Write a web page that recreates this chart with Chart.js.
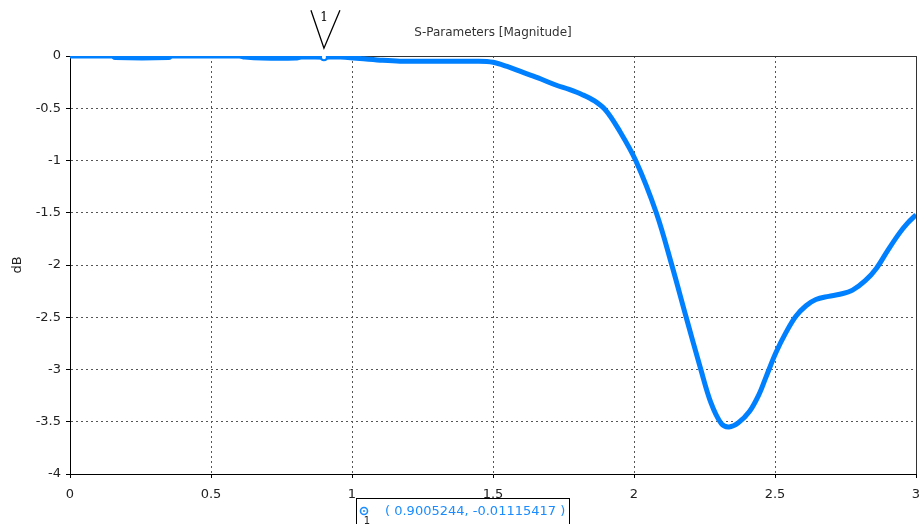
<!DOCTYPE html>
<html>
<head>
    <title>S-Parameters [Magnitude]</title>
    <meta charset="UTF-8">
    <style>
        body {
            margin: 0;
            background: #fff;
        }
        canvas {
            display: block;
        }
    </style>
    <script src="https://cdn.jsdelivr.net/npm/chart.js"></script>
</head>
<body>
    <canvas id="sparamChart" width="922" height="524"></canvas>

    <script>
        // frequency (GHz) and magnitude (dB)
        const freqGHz = [0, 0.15, 0.16, 0.35, 0.36, 0.6, 0.62, 0.68, 0.8, 0.82, 0.9005, 0.96,
            1.1, 1.17, 1.45, 1.5, 1.55, 1.6, 1.66, 1.725, 1.77, 1.817, 1.86, 1.9, 1.945,
            2.006, 2.079, 2.134, 2.185, 2.237, 2.273, 2.31, 2.337, 2.37, 2.41, 2.443, 2.467,
            2.503, 2.54, 2.574, 2.61, 2.645, 2.69, 2.73, 2.775, 2.82, 2.86, 2.9, 2.94, 2.97, 3.0];
        const magnitudeDb = [0, 0, -0.015, -0.015, 0, 0, -0.01, -0.02, -0.02, -0.01, -0.011, -0.01,
            -0.04, -0.05, -0.05, -0.06, -0.1, -0.15, -0.21, -0.28, -0.32, -0.37, -0.43, -0.52, -0.7,
            -1.0, -1.5, -2.0, -2.5, -3.0, -3.32, -3.52, -3.55, -3.51, -3.4, -3.24, -3.08,
            -2.84, -2.64, -2.49, -2.39, -2.33, -2.3, -2.28, -2.24, -2.15, -2.03, -1.86, -1.7, -1.6, -1.52];

        // marker 1
        const markerIds = ['1'];
        const markerFreq = [0.9005244];
        const markerValue = [-0.01115417];

        const xTicks = [0, 0.5, 1, 1.5, 2, 2.5, 3];
        const yTicks = [0, -0.5, -1, -1.5, -2, -2.5, -3, -3.5, -4];

        const blue = '#0080ff';
        const fontFamily = "'DejaVu Sans', Tahoma, sans-serif";

        const curve = freqGHz.map((f, i) => ({ x: f, y: magnitudeDb[i] }));
        const markers = markerFreq.map((f, i) => ({ x: f, y: markerValue[i] }));

        // frame on top/right + marker flag + readout box
        const decorations = {
            id: 'decorations',
            beforeDatasetsDraw(chart) {
                const { ctx, chartArea: a } = chart;
                ctx.save();
                ctx.strokeStyle = '#333';
                ctx.lineWidth = 1;
                ctx.beginPath();
                ctx.moveTo(a.left, a.top + 0.5);
                ctx.lineTo(a.right + 0.5, a.top + 0.5);
                ctx.lineTo(a.right + 0.5, a.bottom);
                ctx.stroke();
                ctx.restore();
            },
            afterDraw(chart) {
                const { ctx } = chart;
                const xs = chart.scales.x, ys = chart.scales.y;
                ctx.save();
                markerFreq.forEach((f, i) => {
                    const px = xs.getPixelForValue(f);
                    const py = ys.getPixelForValue(markerValue[i]);
                    ctx.strokeStyle = '#000';
                    ctx.lineWidth = 1.3;
                    ctx.beginPath();
                    ctx.moveTo(px - 13, py - 47);
                    ctx.lineTo(px, py - 9);
                    ctx.lineTo(px + 16, py - 47);
                    ctx.stroke();
                    ctx.fillStyle = '#000';
                    ctx.font = "12px 'DejaVu Serif', serif";
                    ctx.textAlign = 'center';
                    ctx.textBaseline = 'middle';
                    ctx.fillText(markerIds[i], px, py - 39);

                    // readout box
                    const bx = 356.5, by = 498.5;
                    ctx.strokeStyle = '#000';
                    ctx.lineWidth = 1;
                    ctx.fillStyle = '#fff';
                    ctx.fillRect(bx, by, 213, 40);
                    ctx.strokeRect(bx, by, 213, 40);
                    ctx.strokeStyle = '#1a8cff';
                    ctx.lineWidth = 1.6;
                    ctx.beginPath();
                    ctx.arc(364, 511, 3.5, 0, Math.PI * 2);
                    ctx.stroke();
                    ctx.fillStyle = '#1a8cff';
                    ctx.beginPath();
                    ctx.arc(364, 511, 1, 0, Math.PI * 2);
                    ctx.fill();
                    ctx.fillStyle = '#222';
                    ctx.font = "10px " + fontFamily;
                    ctx.fillText(markerIds[i], 367, 521);
                    ctx.fillStyle = '#1a8cff';
                    ctx.font = "13px " + fontFamily;
                    ctx.textAlign = 'left';
                    ctx.fillText('( ' + f + ', ' + markerValue[i] + ' )', 385, 512);
                });
                ctx.restore();
            }
        };

        const ctx = document.getElementById('sparamChart').getContext('2d');
        const chart = new Chart(ctx, {
            type: 'scatter',
            data: {
                datasets: [{
                    data: curve,
                    order: 1,
                    showLine: true,
                    borderColor: blue,
                    borderWidth: 5,
                    pointRadius: 0,
                    tension: 0.35,
                }, {
                    data: markers,
                    order: 0,
                    showLine: false,
                    pointRadius: 3,
                    pointBorderWidth: 2,
                    pointBackgroundColor: '#fff',
                    pointBorderColor: blue,
                }],
            },
            options: {
                responsive: false,
                animation: false,
                layout: { padding: { left: 0, right: 5, top: 0, bottom: 0 } },
                plugins: {
                    legend: { display: false },
                    tooltip: { enabled: false },
                    title: {
                        display: true,
                        text: 'S-Parameters [Magnitude]',
                        fullSize: false,
                        color: '#333',
                        font: { family: fontFamily, size: 12, weight: 'normal', lineHeight: 1.2 },
                        padding: { top: 26, bottom: 15.6 },
                    },
                },
                scales: {
                    x: {
                        type: 'linear',
                        min: 0,
                        max: 3,
                        afterBuildTicks: s => { s.ticks = xTicks.map(v => ({ value: v })); },
                        afterFit: s => { s.height = 50; s.paddingLeft = 0; s.paddingRight = 0; },
                        ticks: {
                            color: '#222',
                            font: { family: fontFamily, size: 13 },
                            padding: 9,
                            maxRotation: 0,
                            callback: v => String(v),
                        },
                        grid: { color: '#555', tickColor: '#000', tickLength: 4 },
                        border: { color: '#000', width: 1, dash: [2, 3] },
                    },
                    y: {
                        min: -4,
                        max: 0,
                        afterBuildTicks: s => { s.ticks = yTicks.map(v => ({ value: v })); },
                        afterFit: s => { s.width = 70; s.paddingTop = 0; s.paddingBottom = 0; },
                        ticks: {
                            color: '#222',
                            font: { family: fontFamily, size: 13 },
                            padding: 5,
                            callback: v => String(v),
                        },
                        grid: { color: '#555', tickColor: '#000', tickLength: 4 },
                        border: { color: '#000', width: 1, dash: [2, 3] },
                        title: {
                            display: true,
                            text: 'dB',
                            color: '#222',
                            font: { family: fontFamily, size: 13 },
                            padding: { top: 10, bottom: 0 },
                        },
                    },
                },
            },
            plugins: [decorations],
        });
    </script>
</body>
</html>
